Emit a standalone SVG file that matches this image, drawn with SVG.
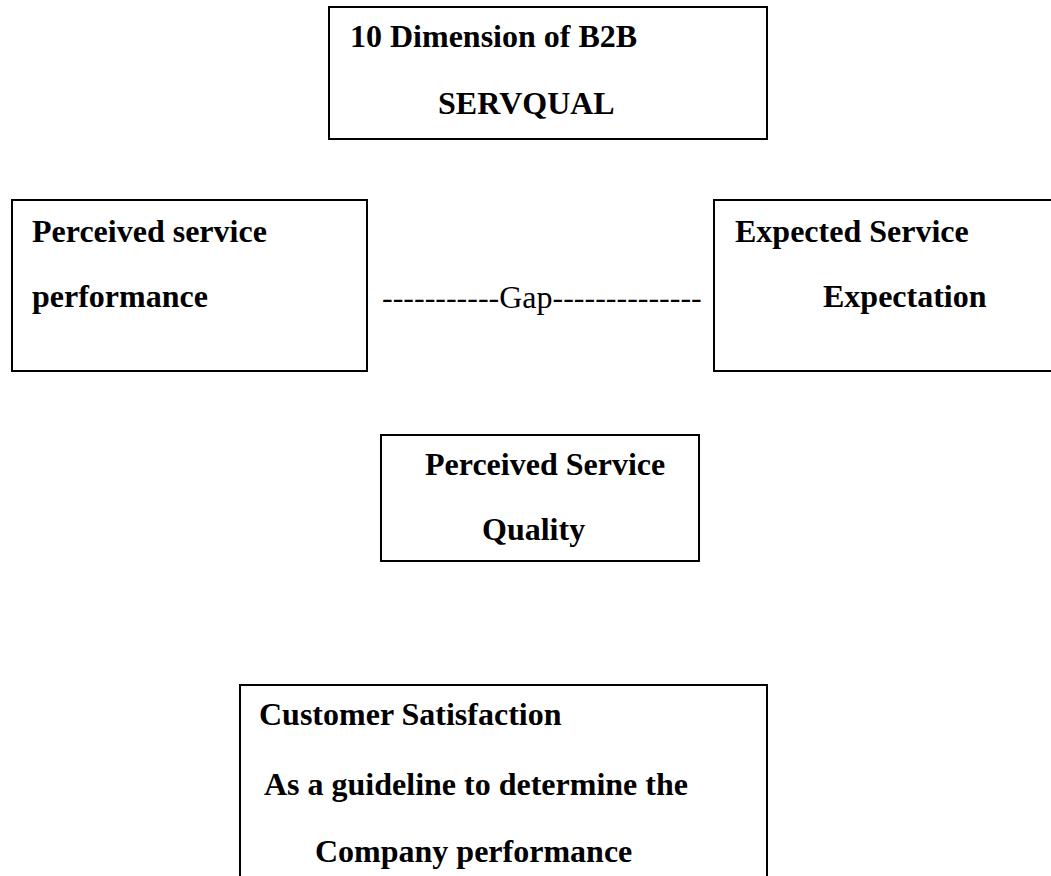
<svg xmlns="http://www.w3.org/2000/svg" width="1051" height="876" viewBox="0 0 1051 876">
<style>
.box{fill:#fff;stroke:#000;stroke-width:2}
.t{font-family:"Liberation Serif","Times New Roman",serif;font-weight:bold;font-size:32px;fill:#000}
.g{font-family:"Liberation Serif","Times New Roman",serif;font-size:32px;fill:#000}
</style>
<rect width="1051" height="876" fill="#fff"/>
<g id="connectors">
<text class="g" x="382" y="308">-----------Gap--------------</text>
</g>
<g id="servqual">
<rect class="box" x="329" y="7" width="438" height="132"/>
<text class="t" x="350" y="47">10 Dimension of B2B</text>
<text class="t" x="438" y="114">SERVQUAL</text>
</g>
<g id="perceived-performance">
<rect class="box" x="12" y="200" width="355" height="171"/>
<text class="t" x="32" y="242">Perceived service</text>
<text class="t" x="32" y="307">performance</text>
</g>
<g id="expected-service">
<rect class="box" x="714" y="200" width="345" height="171"/>
<text class="t" x="735" y="242">Expected Service</text>
<text class="t" x="823" y="307">Expectation</text>
</g>
<g id="perceived-quality">
<rect class="box" x="381" y="435" width="318" height="126"/>
<text class="t" x="425" y="475">Perceived Service</text>
<text class="t" x="482" y="540">Quality</text>
</g>
<g id="customer-satisfaction">
<rect class="box" x="240" y="685" width="527" height="200"/>
<text class="t" x="259" y="725">Customer Satisfaction</text>
<text class="t" x="264" y="795">As a guideline to determine the</text>
<text class="t" x="315" y="862">Company performance</text>
</g>
</svg>
